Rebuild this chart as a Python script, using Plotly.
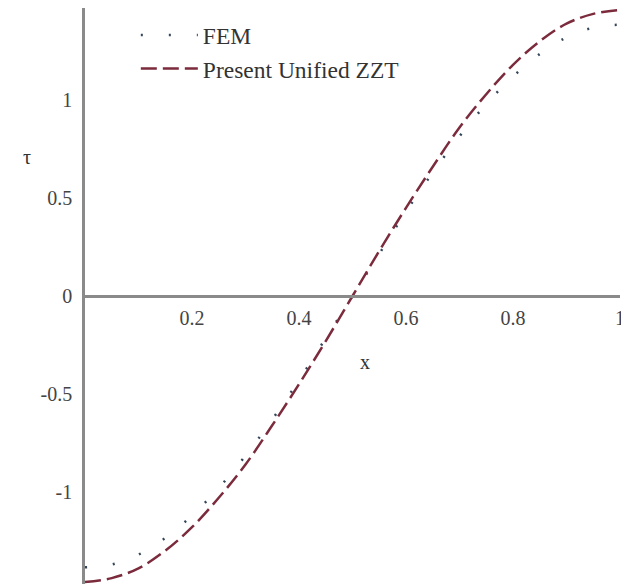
import plotly.graph_objects as go

x_vals = [0.0, 0.05, 0.1, 0.15, 0.2, 0.25, 0.3, 0.35, 0.4, 0.45, 0.5,
          0.55, 0.6, 0.65, 0.7, 0.75, 0.8, 0.85, 0.9, 0.95, 1.0]
fem_tau = [-1.385, -1.37, -1.32, -1.235, -1.12, -0.98, -0.815, -0.63, -0.43, -0.215, 0.0,
           0.215, 0.43, 0.63, 0.815, 0.98, 1.12, 1.235, 1.32, 1.37, 1.385]
zzt_tau = [-1.46, -1.44, -1.39, -1.30, -1.18, -1.03, -0.86, -0.66, -0.45, -0.23, 0.0,
           0.23, 0.45, 0.66, 0.86, 1.03, 1.18, 1.30, 1.39, 1.44, 1.46]

x_ticks = [0.2, 0.4, 0.6, 0.8, 1.0]
x_ticktext = ["0.2", "0.4", "0.6", "0.8", "1"]
y_ticks = [-1, -0.5, 0, 0.5, 1]
y_ticktext = ["-1", "-0.5", "0", "0.5", "1"]

FONT = "Liberation Serif, Times New Roman, serif"

fig = go.Figure()
fig.add_trace(go.Scatter(
    x=x_vals, y=fem_tau, mode="lines", name="FEM",
    line=dict(color="#34475a", width=2.5, dash="2px,26px", shape="spline"),
))
fig.add_trace(go.Scatter(
    x=x_vals, y=zzt_tau, mode="lines", name="Present Unified ZZT",
    line=dict(color="#7b2b3c", width=2.5, dash="16px,6px", shape="spline"),
))

fig.update_layout(
    width=621, height=587,
    margin=dict(l=85, r=1, t=8, b=3, autoexpand=False),
    plot_bgcolor="white", paper_bgcolor="white",
    font=dict(family=FONT, size=20, color="#333333"),
    showlegend=True,
    legend=dict(x=0.095, y=0.991, xanchor="left", yanchor="top",
                bgcolor="rgba(0,0,0,0)", font=dict(size=23.5, family=FONT, color="#333333"),
                itemwidth=57, tracegroupgap=0),
    xaxis=dict(range=[0, 1], anchor="free", position=0.5, automargin=False,
               showline=True, linecolor="#8a8a8a", linewidth=2.5,
               showgrid=False, zeroline=False,
               tickvals=x_ticks, ticktext=x_ticktext, ticks="",
               ticklabelstandoff=3, ticklabeloverflow="allow",
               tickfont=dict(size=20, family=FONT, color="#444444")),
    yaxis=dict(range=[-1.47, 1.47], automargin=False,
               showline=True, linecolor="#8a8a8a", linewidth=2.5,
               showgrid=False, zeroline=False,
               tickvals=y_ticks, ticktext=y_ticktext, ticks="",
               ticklabelstandoff=6,
               tickfont=dict(size=20, family=FONT, color="#444444")),
    annotations=[
        dict(x=-0.12, y=0.709, xref="paper", yref="y", text="τ", showarrow=False,
             font=dict(size=20, family=FONT, color="#333333")),
        dict(x=0.523, y=-0.337, xref="paper", yref="y", text="x", showarrow=False,
             font=dict(size=20, family=FONT, color="#333333")),
    ],
)

fig.write_html(
    "out.html",
    config={"displayModeBar": False},
    post_script="document.body.style.margin='0';document.body.style.overflow='hidden';",
)
